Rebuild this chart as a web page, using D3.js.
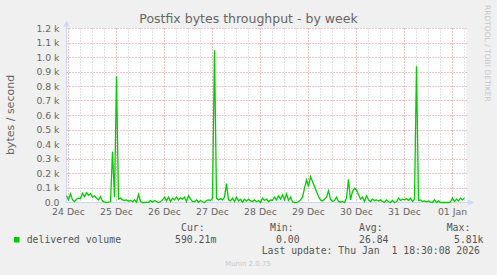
<!DOCTYPE html>
<html>
<head>
<meta charset="utf-8">
<script src="https://cdn.jsdelivr.net/npm/d3@7"></script>
<style>
	body { margin: 0; background: #f0f0f0; }
	svg { display: block; }
	text { font-family: "DejaVu Sans", sans-serif; fill: #666; }
	.mono { font-family: "DejaVu Sans Mono", monospace; white-space: pre; fill: #555; }
</style>
</head>
<body>
<svg id="chart" width="497" height="275"></svg>
<script>
// hourly samples of delivered volume, bytes/second
const seriesStart = Date.UTC(2025, 11, 23, 23, 15);
const deliveredVolume = [
	46, 18, 60, 18, 7, 23, 30, 27, 64, 41,
	68, 50, 60, 37, 46, 30, 18, 41, 9, 2,
	0, 2, 5, 350, 37, 870, 23, 30, 18, 14,
	18, 9, 14, 5, 18, 2, 55, 7, 0, 0,
	2, 0, 14, 2, 14, 7, 0, 5, 18, 37,
	11, 37, 7, 30, 18, 37, 18, 32, 23, 37,
	7, 46, 23, 7, 5, 18, 2, 14, 5, 0,
	14, 18, 14, 27, 1050, 30, 18, 27, 18, 37,
	130, 18, 11, 30, 7, 37, 11, 23, 2, 23,
	9, 23, 11, 7, 18, 5, 14, 0, 30, 14,
	23, 7, 18, 14, 37, 18, 46, 23, 53, 18,
	60, 14, 37, 5, 0, 0, 5, 18, 37, 98,
	156, 110, 179, 144, 110, 76, 41, 18, 11, 23,
	37, 80, 23, 7, 14, 37, 7, 2, 7, 0,
	30, 160, 18, 76, 98, 87, 53, 23, 37, 7,
	46, 18, 7, 23, 14, 18, 11, 18, 7, 0,
	18, 5, 0, 14, 0, 5, 30, 14, 23, 18,
	27, 14, 30, 7, 23, 940, 14, 18, 7, 11,
	5, 11, 2, 0, 18, 0, 11, 0, 0, 0,
	0, 0, 5, 30, 7, 23, 11, 30, 18, 32
];

const yTicks = [0, 100, 200, 300, 400, 500, 600, 700, 800, 900, 1000, 1100, 1200];
const yTickLabels = ["0.0", "0.1 k", "0.2 k", "0.3 k", "0.4 k", "0.5 k", "0.6 k",
	"0.7 k", "0.8 k", "0.9 k", "1.0 k", "1.1 k", "1.2 k"];

const dayTicks = [
	Date.UTC(2025, 11, 24), Date.UTC(2025, 11, 25), Date.UTC(2025, 11, 26),
	Date.UTC(2025, 11, 27), Date.UTC(2025, 11, 28), Date.UTC(2025, 11, 29),
	Date.UTC(2025, 11, 30), Date.UTC(2025, 11, 31), Date.UTC(2026, 0, 1)
];
const dayLabels = ["24 Dec", "25 Dec", "26 Dec", "27 Dec", "28 Dec", "29 Dec", "30 Dec", "31 Dec", "01 Jan"];

const legendName = "delivered volume";
const legendHeads = ["Cur:", "Min:", "Avg:", "Max:"];
const legendValues = ["590.21m", "0.00", "26.84", "5.81k"];
const lastUpdate = "Last update: Thu Jan  1 18:30:08 2026";

const svg = d3.select("#chart");
const plot = {left: 66.5, right: 466.5, top: 28.5, bottom: 202.5};
const snap = v => Math.floor(v) + 0.5;

const series = deliveredVolume.map((v, i) => ({t: new Date(seriesStart + i * 3600e3), v: v}));

const x = d3.scaleUtc()
	.domain([new Date(seriesStart), new Date(seriesStart + 200 * 3600e3)])
	.range([plot.left, plot.right]);
const y = d3.scaleLinear()
	.domain([0, 1200])
	.range([plot.bottom, plot.top]);

// canvas
svg.append("rect")
	.attr("x", plot.left).attr("y", plot.top - 0.5)
	.attr("width", plot.right - plot.left).attr("height", plot.bottom - plot.top + 0.5)
	.attr("fill", "#fff");

// minor grid, every 6 hours
const grid = svg.append("g").attr("stroke-width", 1).attr("stroke-dasharray", "1,2");
grid.selectAll(".minor")
	.data(d3.utcHour.every(6).range(x.domain()[0], x.domain()[1]))
	.enter().append("line")
	.attr("x1", d => snap(x(d))).attr("x2", d => snap(x(d)))
	.attr("y1", plot.top).attr("y2", plot.bottom)
	.attr("stroke", "#c4c4c4");

// major grid
grid.selectAll(".hmajor")
	.data(yTicks.slice(1))
	.enter().append("line")
	.attr("x1", plot.left).attr("x2", plot.right)
	.attr("y1", d => snap(y(d))).attr("y2", d => snap(y(d)))
	.attr("stroke", "#e08c8c");
grid.selectAll(".vmajor")
	.data(dayTicks.map(d => new Date(d)))
	.enter().append("line")
	.attr("x1", d => snap(x(d))).attr("x2", d => snap(x(d)))
	.attr("y1", plot.top).attr("y2", plot.bottom)
	.attr("stroke", "#e8a4a4");

// axes (tick labels only, rrdtool style)
const yAxis = d3.axisLeft(y).tickValues(yTicks)
	.tickFormat((d, i) => yTickLabels[i]).tickSize(0).tickPadding(7);
svg.append("g")
	.attr("transform", `translate(${plot.left},0)`)
	.call(yAxis)
	.call(g => g.select(".domain").remove())
	.selectAll("text").attr("font-size", 9.3).attr("font-family", "DejaVu Sans").attr("fill", "#666");

const xAxis = d3.axisBottom(x).tickValues(dayTicks.map(d => new Date(d)))
	.tickFormat((d, i) => dayLabels[i]).tickSize(0).tickPadding(6);
svg.append("g")
	.attr("transform", `translate(0,${plot.bottom})`)
	.call(xAxis)
	.call(g => g.select(".domain").remove())
	.selectAll("text").attr("font-size", 9.3).attr("font-family", "DejaVu Sans").attr("fill", "#666");

// axis lines and arrows
const axisCol = "#cfd6f8";
svg.append("line").attr("x1", plot.left).attr("x2", plot.left)
	.attr("y1", plot.bottom + 0.5).attr("y2", 24).attr("stroke", axisCol);
svg.append("line").attr("x1", plot.left - 0.5).attr("x2", 470)
	.attr("y1", plot.bottom).attr("y2", plot.bottom).attr("stroke", axisCol);
svg.append("path").attr("d", `M${plot.left - 3},26.5 L${plot.left + 3},26.5 L${plot.left},20.5 Z`).attr("fill", axisCol);
svg.append("path").attr("d", `M468,${plot.bottom - 3} L468,${plot.bottom + 3} L474,${plot.bottom} Z`).attr("fill", axisCol);

// the series
svg.append("path")
	.datum(series)
	.attr("fill", "none")
	.attr("stroke", "#00cc00")
	.attr("stroke-width", 1.3)
	.attr("stroke-linejoin", "miter")
	.attr("d", d3.line().x(d => x(d.t)).y(d => y(d.v)));

// title and labels
svg.append("text").attr("x", 248.5).attr("y", 23).attr("text-anchor", "middle")
	.attr("font-size", 12.5).text("Postfix bytes throughput - by week");
svg.append("text").attr("transform", "translate(14,115) rotate(-90)").attr("text-anchor", "middle")
	.attr("font-size", 11).text("bytes / second");
svg.append("text").attr("transform", "translate(485,5) rotate(90)")
	.attr("font-size", 7.5).style("fill", "#c8c8c8").text("RRDTOOL / TOBI OETIKER");

// legend
svg.append("rect").attr("x", 14).attr("y", 237).attr("width", 5.5).attr("height", 5.5).attr("fill", "#00cc00");
const mono = 9.8;
svg.append("text").attr("class", "mono").attr("x", 26.7).attr("y", 242.5).attr("font-size", mono).text(legendName);
const headX = [181, 270, 359, 446.7];
const valX = [175, 276, 359, 454];
legendHeads.forEach((h, i) => {
	svg.append("text").attr("class", "mono").attr("x", headX[i]).attr("y", 230.8).attr("font-size", mono).text(h);
	svg.append("text").attr("class", "mono").attr("x", valX[i]).attr("y", 242.5).attr("font-size", mono).text(legendValues[i]);
});
svg.append("text").attr("class", "mono").attr("x", 261.7).attr("y", 254.2).attr("font-size", mono).text(lastUpdate);
svg.append("text").attr("x", 248).attr("y", 266).attr("text-anchor", "middle")
	.attr("font-size", 7).style("fill", "#c8c8c8").text("Munin 2.0.75");
</script>
</body>
</html>
